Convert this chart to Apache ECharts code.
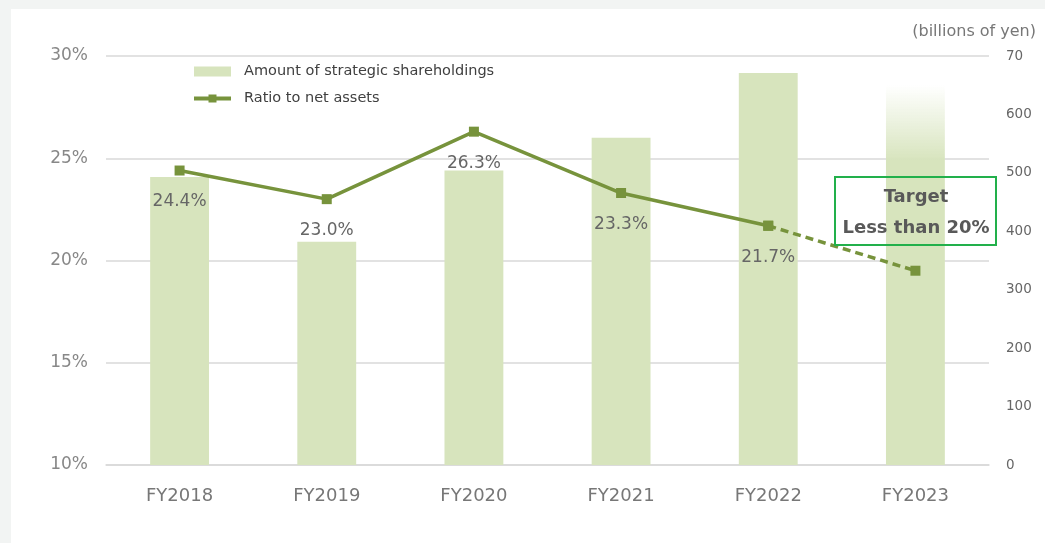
<!DOCTYPE html>
<html>
<head>
<meta charset="utf-8">
<script src="https://cdn.jsdelivr.net/npm/echarts@6.0.0/dist/echarts.min.js"></script>
<style>
  html, body { margin: 0; padding: 0; background: #f2f4f3; }
  #chart { position: absolute; left: 11px; top: 9px; width: 1034px; height: 534px; background: #fff; }
</style>
</head>
<body>
<div id="chart"></div>
<script>
const years = ["FY2018", "FY2019", "FY2020", "FY2021", "FY2022", "FY2023"];
const holdings = [493, 382, 504, 560, 671, 650];
const ratio = [24.4, 23.0, 26.3, 23.3, 21.7, 19.5];
const ratioLabels = ["24.4%", "23.0%", "26.3%", "23.3%", "21.7%", ""];
const leftTicks = { min: 10, max: 30, interval: 5 };
const rightTicks = { min: 0, max: 700, interval: 100 };

const FONT = "'DejaVu Sans', sans-serif";
const barColor = "#d7e4bd";
const lineColor = "#77933c";

// solid part up to FY2022, dashed forecast to FY2023
const lastActual = 4;
const solidData = ratio.map((v, i) => (i <= lastActual ? v : null));
const dashData = ratio.map((v, i) => (i >= lastActual ? v : null));

const barData = holdings.map((v, i) => {
  if (i !== years.length - 1) return v;
  return {
    value: v,
    itemStyle: {
      color: new echarts.graphic.LinearGradient(0, 0, 0, 1, [
        { offset: 0, color: "rgba(215,228,189,0)" },
        { offset: 0.2, color: barColor },
        { offset: 1, color: barColor }
      ])
    }
  };
});

const chart = echarts.init(document.getElementById("chart"));
chart.setOption({
  animation: false,
  textStyle: { fontFamily: FONT },
  title: {
    text: "(billions of yen)",
    right: 4,
    top: 10,
    textStyle: { fontFamily: FONT, fontSize: 16, fontWeight: "normal", color: "#777" }
  },
  legend: {
    data: [
      { name: "Amount of strategic shareholdings", icon: "rect" },
      { name: "Ratio to net assets" }
    ],
    orient: "vertical",
    left: 176,
    top: 50,
    itemWidth: 37,
    itemHeight: 10,
    itemGap: 12,
    lineStyle: { width: 4 },
    textStyle: { fontFamily: FONT, fontSize: 14.5, color: "#404040", padding: [0, 0, 0, 8] }
  },
  grid: { left: 95, right: 56, top: 47, bottom: 78 },
  xAxis: {
    type: "category",
    data: years,
    axisTick: { show: false },
    axisLine: { lineStyle: { color: "#d9d9d9", width: 1.5 } },
    axisLabel: { fontFamily: FONT, fontSize: 18, color: "#777", margin: 22 }
  },
  yAxis: [
    {
      type: "value",
      min: leftTicks.min,
      max: leftTicks.max,
      interval: leftTicks.interval,
      axisLine: { show: false },
      axisTick: { show: false },
      splitLine: { lineStyle: { color: "#d9d9d9", width: 1.5 } },
      axisLabel: { fontFamily: FONT, fontSize: 17, color: "#888", margin: 18, formatter: "{value}%" }
    },
    {
      type: "value",
      min: rightTicks.min,
      max: rightTicks.max,
      interval: rightTicks.interval,
      axisLine: { show: false },
      axisTick: { show: false },
      splitLine: { show: false },
      axisLabel: {
        fontFamily: FONT,
        fontSize: 13.5,
        color: "#666",
        margin: 17,
        formatter: (v) => (v === rightTicks.max ? "70" : String(v))
      }
    }
  ],
  series: [
    {
      name: "Amount of strategic shareholdings",
      type: "bar",
      yAxisIndex: 1,
      barWidth: "40%",
      itemStyle: { color: barColor },
      data: barData,
      z: 1
    },
    {
      name: "Ratio to net assets",
      type: "line",
      yAxisIndex: 0,
      data: solidData,
      symbol: "rect",
      symbolSize: 10,
      lineStyle: { color: lineColor, width: 3.5 },
      itemStyle: { color: lineColor },
      label: {
        show: true,
        position: "bottom",
        distance: 18,
        fontFamily: FONT,
        fontSize: 17,
        color: "#666",
        formatter: (p) => ratioLabels[p.dataIndex]
      },
      z: 3
    },
    {
      name: "Target",
      type: "line",
      yAxisIndex: 0,
      data: dashData,
      symbol: "rect",
      symbolSize: 10,
      lineStyle: { color: lineColor, width: 3.5, type: [8, 5] },
      itemStyle: { color: lineColor },
      z: 2
    }
  ],
  graphic: [
    {
      type: "rect",
      x: 824,
      y: 168,
      shape: { width: 161, height: 68 },
      style: { fill: "rgba(255,255,255,0)", stroke: "#22b04b", lineWidth: 2 },
      z: 10
    },
    {
      type: "text",
      x: 905,
      y: 188,
      style: {
        text: "Target",
        align: "center",
        verticalAlign: "middle",
        font: "bold 18px " + FONT,
        fill: "#595959"
      },
      z: 11
    },
    {
      type: "text",
      x: 905,
      y: 219,
      style: {
        text: "Less than 20%",
        align: "center",
        verticalAlign: "middle",
        font: "bold 18px " + FONT,
        fill: "#595959"
      },
      z: 11
    }
  ]
});
</script>
</body>
</html>
